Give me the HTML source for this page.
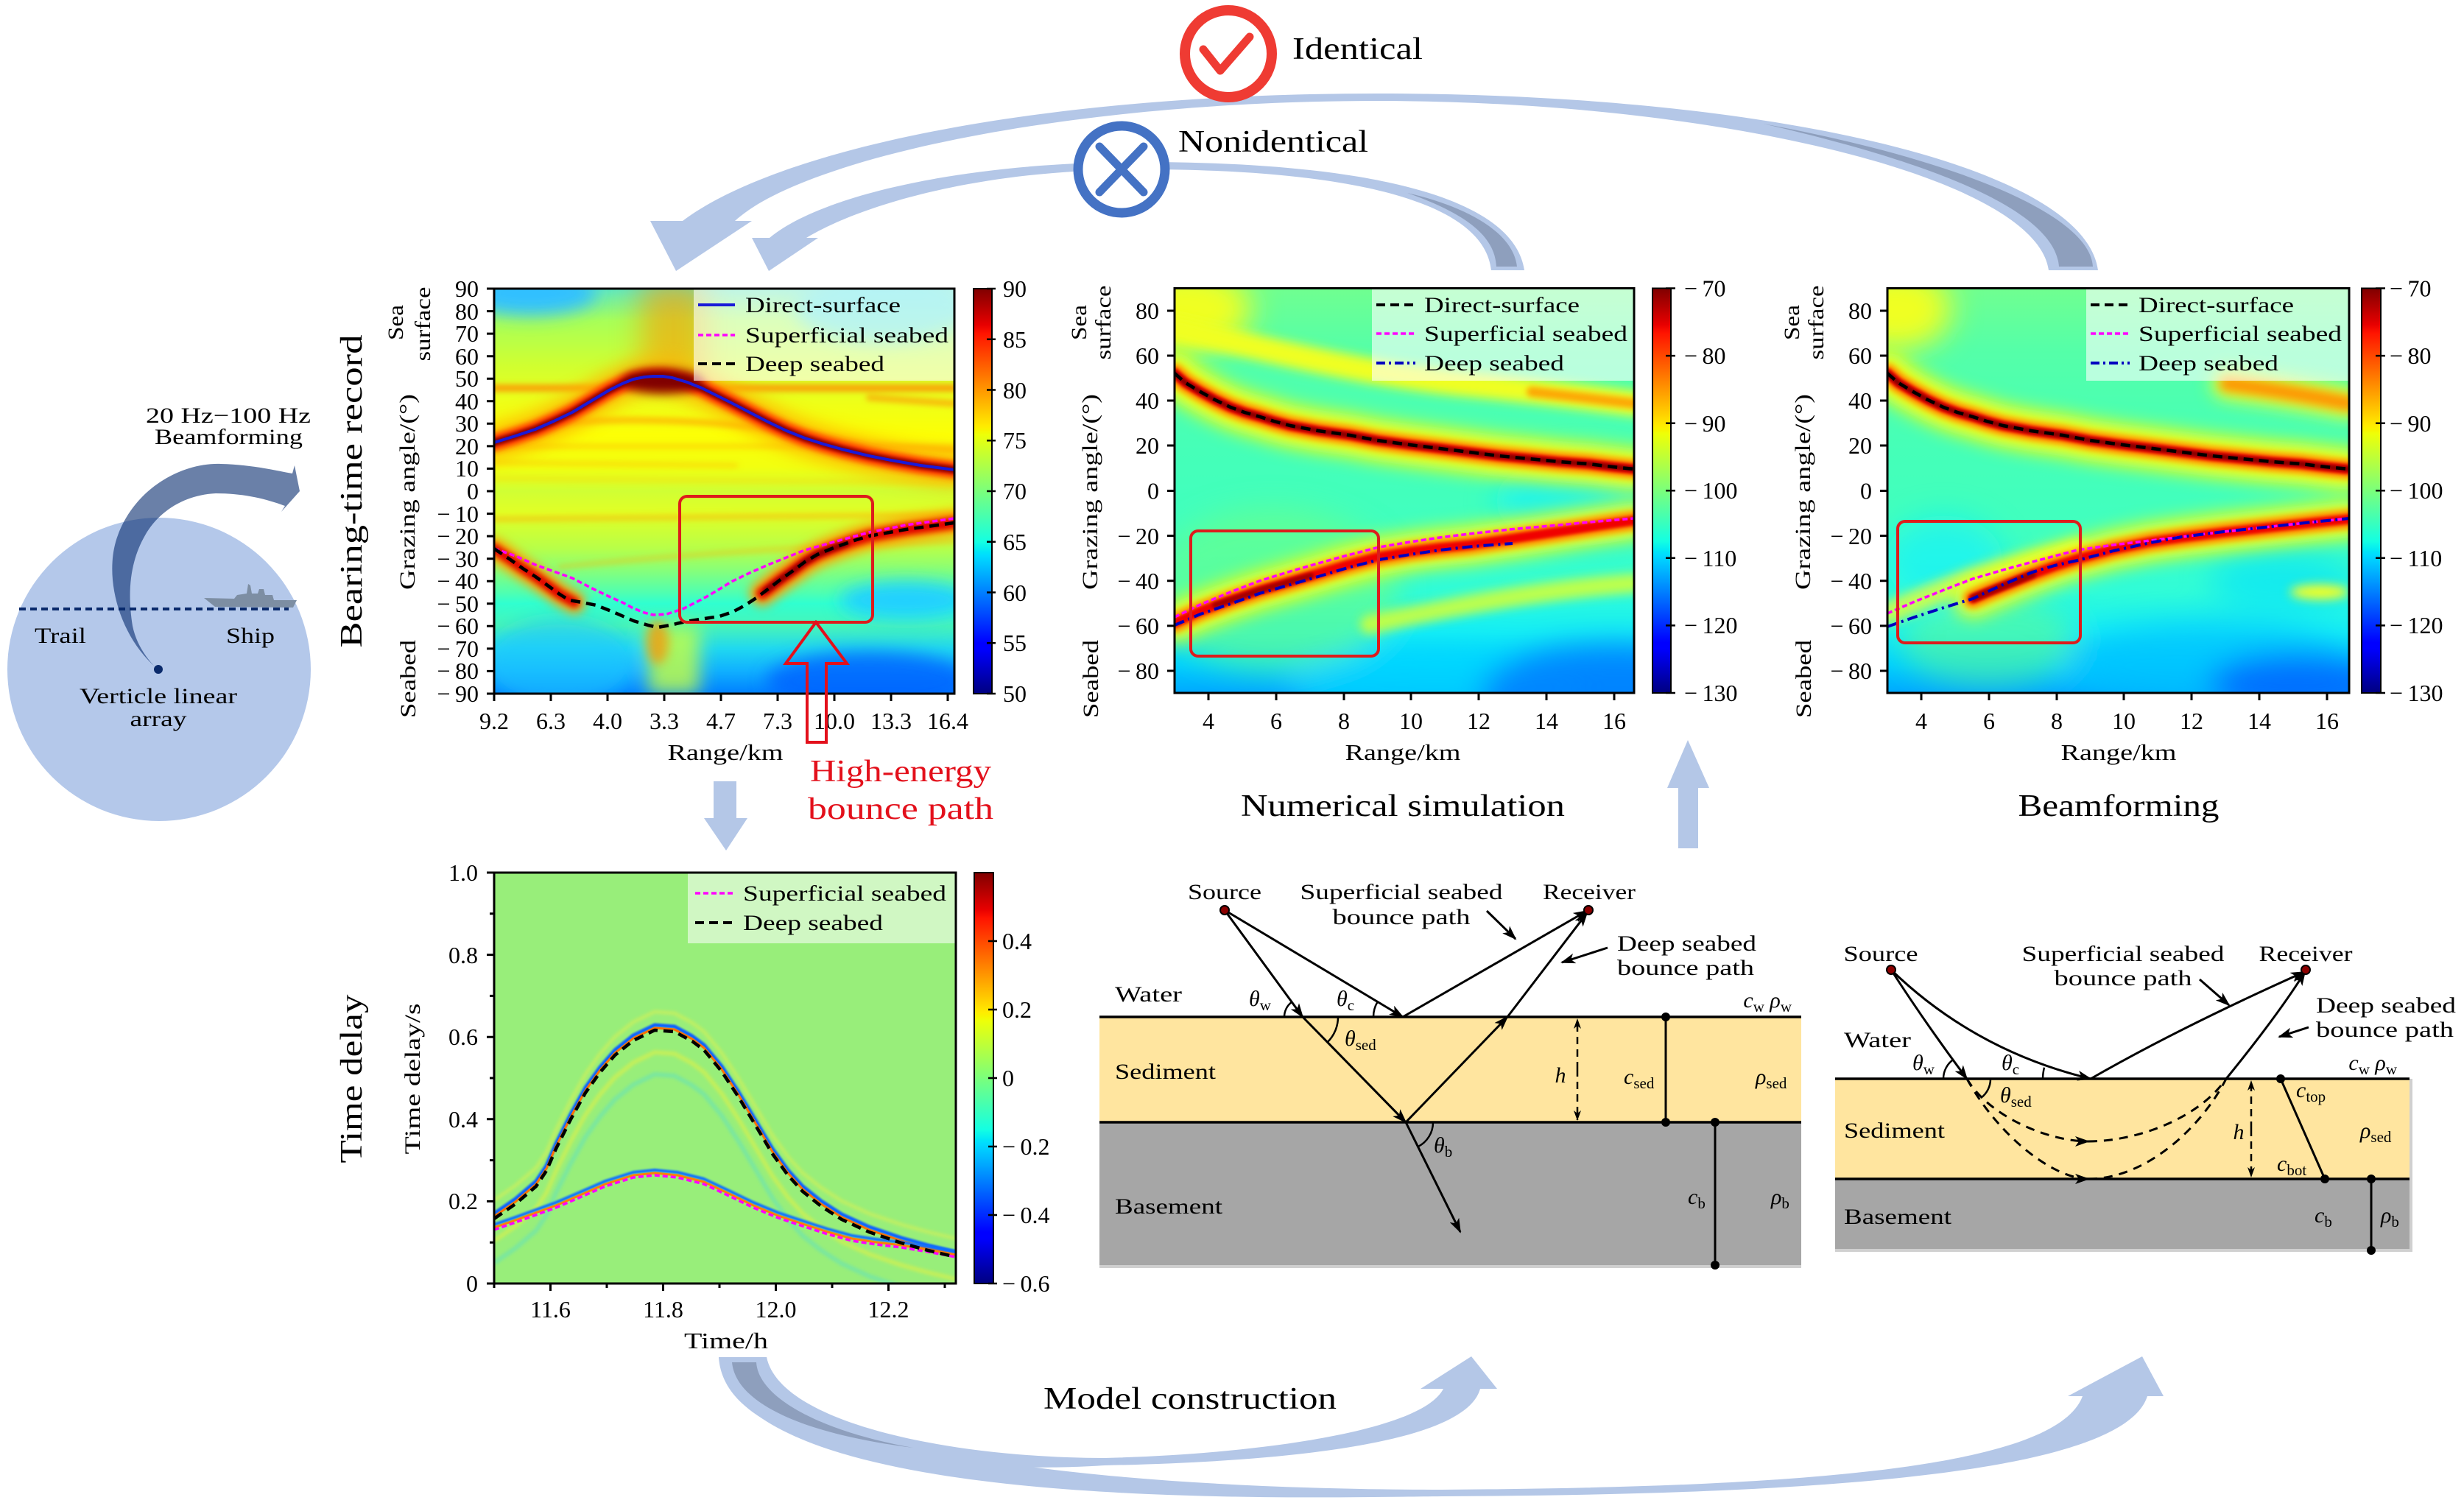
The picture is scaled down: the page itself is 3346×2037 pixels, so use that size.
<!DOCTYPE html>
<html><head><meta charset="utf-8"><style>
html,body{margin:0;padding:0;background:#fff;}
svg{display:block;}
text{font-family:"Liberation Serif","DejaVu Serif",serif;fill:#000;}
</style></head><body>
<svg xmlns="http://www.w3.org/2000/svg" width="3346" height="2037" viewBox="0 0 3346 2037">
<defs>
<filter id="b1" filterUnits="userSpaceOnUse" x="0" y="0" width="3346" height="2037"><feGaussianBlur stdDeviation="1"/></filter>
<filter id="b2" filterUnits="userSpaceOnUse" x="0" y="0" width="3346" height="2037"><feGaussianBlur stdDeviation="2"/></filter>
<filter id="b4" filterUnits="userSpaceOnUse" x="0" y="0" width="3346" height="2037"><feGaussianBlur stdDeviation="4"/></filter>
<filter id="b7" filterUnits="userSpaceOnUse" x="0" y="0" width="3346" height="2037"><feGaussianBlur stdDeviation="7"/></filter>
<filter id="b12" filterUnits="userSpaceOnUse" x="0" y="0" width="3346" height="2037"><feGaussianBlur stdDeviation="12"/></filter>
<filter id="b20" filterUnits="userSpaceOnUse" x="0" y="0" width="3346" height="2037"><feGaussianBlur stdDeviation="20"/></filter>
<linearGradient id="jet" x1="0" y1="1" x2="0" y2="0">
<stop offset="0" stop-color="#000080"/><stop offset="0.11" stop-color="#0000ff"/><stop offset="0.125" stop-color="#0000ff"/>
<stop offset="0.34" stop-color="#00dbff"/><stop offset="0.35" stop-color="#00e6f7"/><stop offset="0.375" stop-color="#14ffe2"/>
<stop offset="0.64" stop-color="#eeff08"/><stop offset="0.65" stop-color="#f7f500"/><stop offset="0.66" stop-color="#ffec00"/>
<stop offset="0.89" stop-color="#ff1300"/><stop offset="0.91" stop-color="#e80000"/><stop offset="1" stop-color="#800000"/>
</linearGradient>
<linearGradient id="gtl" x1="0" y1="0" x2="0" y2="1">
<stop offset="0" stop-color="#60e8c0"/><stop offset="0.08" stop-color="#a8ff58"/><stop offset="0.19" stop-color="#d0ff30"/>
<stop offset="0.28" stop-color="#eeff18"/><stop offset="0.36" stop-color="#fcff05"/><stop offset="0.44" stop-color="#f2ff10"/>
<stop offset="0.5" stop-color="#d0ff34"/><stop offset="0.555" stop-color="#e2ff24"/><stop offset="0.64" stop-color="#b8ff48"/>
<stop offset="0.694" stop-color="#88ff78"/><stop offset="0.75" stop-color="#50ffb0"/><stop offset="0.777" stop-color="#30ffd0"/>
<stop offset="0.833" stop-color="#48f4b8"/><stop offset="0.889" stop-color="#20d8f0"/><stop offset="0.944" stop-color="#10b0ff"/>
<stop offset="1" stop-color="#0080ff"/>
</linearGradient>
<linearGradient id="gmid" x1="0" y1="0" x2="0" y2="1">
<stop offset="0" stop-color="#70ff90"/><stop offset="0.15" stop-color="#55ffa8"/><stop offset="0.4" stop-color="#45ffb8"/>
<stop offset="0.6" stop-color="#40ffc0"/><stop offset="0.75" stop-color="#30fcd8"/><stop offset="0.85" stop-color="#15eef5"/>
<stop offset="0.93" stop-color="#00d0ff"/><stop offset="1" stop-color="#00a8ff"/>
</linearGradient>
<clipPath id="ctl"><rect x="671" y="392" width="625" height="550"/></clipPath>
<clipPath id="cmid"><rect x="1595" y="391.5" width="624" height="549.5"/></clipPath>
<clipPath id="crt"><rect x="2563" y="391.5" width="627" height="549.5"/></clipPath>
<clipPath id="ctd"><rect x="671" y="1185" width="627" height="558"/></clipPath>
<marker id="ah" viewBox="0 0 20 14" refX="18" refY="7" markerWidth="20" markerHeight="14" orient="auto" markerUnits="userSpaceOnUse"><path d="M0,0 L20,7 L0,14 L5,7 Z" fill="#000"/></marker>
<marker id="ahs" viewBox="0 0 14 10" refX="13" refY="5" markerWidth="14" markerHeight="10" orient="auto" markerUnits="userSpaceOnUse"><path d="M0,0 L14,5 L0,10 L4,5 Z" fill="#000"/></marker>
</defs>

<!-- ============ TOP ARROWS ============ -->
<path d="M2849,367 C2830,225 2400,127 1871,127 C1420,127 1060,200 927,300 L883,300 L918,368 L1021,300 L998,300 C1090,215 1450,137 1871,137 C2330,137 2765,240 2782,367 Z" fill="#b4c7e7"/>
<path d="M2394,168 C2600,215 2790,280 2796,362 L2842,362 C2838,290 2650,215 2394,168 Z" fill="#8e9fbd"/>
<path d="M2070,367 C2055,265 1850,220 1550,220 C1300,220 1110,268 1045,323 L1021,323 L1044,368 L1111,323 L1095,323 C1170,278 1330,230 1550,230 C1830,230 2015,272 2025,367 Z" fill="#b4c7e7"/>
<path d="M1911,262 C1990,290 2030,320 2032,362 L2060,362 C2055,315 1990,280 1911,262 Z" fill="#8e9fbd"/>

<!-- icons -->
<circle cx="1668" cy="73" r="59" fill="#fff" stroke="#ef3b33" stroke-width="14"/>
<path d="M1634,67 L1657,96 L1697,50" fill="none" stroke="#ef3b33" stroke-width="11" stroke-linecap="round" stroke-linejoin="round"/>
<text x="1755" y="80" font-size="42" textLength="177" lengthAdjust="spacingAndGlyphs">Identical</text>
<circle cx="1523" cy="230" r="59" fill="#fff" stroke="#4472c4" stroke-width="13"/>
<path d="M1493,199 L1553,261 M1553,199 L1493,261" stroke="#4472c4" stroke-width="11" stroke-linecap="round"/>
<text x="1600" y="206" font-size="42" textLength="258" lengthAdjust="spacingAndGlyphs">Nonidentical</text>

<!-- ============ LEFT CIRCLE ============ -->
<circle cx="216" cy="909" r="206" fill="#b4c8ea"/>
<path d="M26,827 H392" stroke="#0a2a6b" stroke-width="4" stroke-dasharray="9 6"/>
<g fill="#7d8ea3">
<path d="M277,812 L292,824 L398,825 L403,815 L372,815 L370,808 L360,808 L358,800 L352,800 L350,806 L342,806 L340,795 L337,793 L335,806 L322,808 L318,813 Z"/>
</g>
<path d="M210,905 C160,860 140,780 160,727 C185,660 250,628 300,630 C340,631 370,638 397,643 L400,632 L407,667 L382,695 L387,687 C360,677 330,670 293,670 C250,672 215,695 197,727 C178,760 172,800 180,850 C185,875 200,895 210,905 Z" fill="rgb(7,43,110)" fill-opacity="0.6"/>
<circle cx="215" cy="909" r="6" fill="#0a2a6b"/>
<text x="47" y="873" font-size="30" textLength="70" lengthAdjust="spacingAndGlyphs">Trail</text>
<text x="307" y="873" font-size="30" textLength="66" lengthAdjust="spacingAndGlyphs">Ship</text>
<text x="108" y="955" font-size="30" textLength="214" lengthAdjust="spacingAndGlyphs">Verticle linear</text>
<text x="215" y="986" font-size="30" text-anchor="middle" textLength="77" lengthAdjust="spacingAndGlyphs">array</text>
<text x="198" y="574" font-size="30" textLength="224" lengthAdjust="spacingAndGlyphs">20 Hz−100 Hz</text>
<text x="210" y="603" font-size="30" textLength="201" lengthAdjust="spacingAndGlyphs">Beamforming</text>
<text transform="translate(491,667) rotate(-90)" font-size="42" text-anchor="middle" textLength="425" lengthAdjust="spacingAndGlyphs">Bearing-time record</text>

<!-- ============ TOP-LEFT PLOT ============ -->
<g clip-path="url(#ctl)">
<rect x="671" y="392" width="625" height="550" fill="url(#gtl)"/>
<g filter="url(#b12)">
<ellipse cx="720" cy="398" rx="90" ry="30" fill="#30c0ff"/>
<ellipse cx="1200" cy="420" rx="120" ry="45" fill="#40e0f0" opacity="0.8"/>
<ellipse cx="1230" cy="815" rx="90" ry="25" fill="#20d0ff"/>
<ellipse cx="760" cy="900" rx="100" ry="60" fill="#20c8ff" opacity="0.6"/>
<ellipse cx="1180" cy="925" rx="140" ry="40" fill="#0060ff" opacity="0.8"/>
<rect x="880" y="850" width="70" height="92" fill="#c8ff40" opacity="0.8"/>
</g>
<rect x="870" y="380" width="90" height="135" fill="#ff9a00" opacity="0.6" filter="url(#b20)"/>
<g filter="url(#b4)" fill="none" stroke-linecap="round">
<path d="M671,527 L1296,527" stroke="#ff8a00" stroke-width="9" opacity="0.85"/>
<path d="M1180,540 L1296,548" stroke="#ff8000" stroke-width="8" opacity="0.6"/>
<path d="M760,574 Q960,560 1180,604 L1296,612" stroke="#ffa000" stroke-width="8" opacity="0.7"/>
<path d="M671,606 L1296,606" stroke="#ffb000" stroke-width="6" opacity="0.5"/>
<path d="M671,628 L1000,632" stroke="#ffb000" stroke-width="5" opacity="0.5"/>
<path d="M671,705 L1296,699" stroke="#ffa000" stroke-width="6" opacity="0.55"/>
<path d="M760,770 Q1000,745 1296,735" stroke="#ffb000" stroke-width="6" opacity="0.45"/>
<path d="M671,650 L1296,655" stroke="#ffc000" stroke-width="5" opacity="0.4"/>
</g>
<g fill="none" stroke-linejoin="round" stroke-linecap="round">
<path d="M671,601 L700,592 L727,583 L752,572 L777,560 L802,545 L827,530 L845,521 L860,515 L875,512 L887,511 L900,511 L913,513 L933,519 L953,527 L973,537 L993,547 L1018,560 L1043,573 L1068,585 L1093,595 L1118,603 L1143,610 L1180,619 L1210,625 L1250,632 L1296,638" stroke="#ffb000" stroke-width="44" filter="url(#b12)" opacity="0.9"/>
<path d="M671,601 L700,592 L727,583 L752,572 L777,560 L802,545 L827,530 L845,521 L860,515 L875,512 L887,511 L900,511 L913,513 L933,519 L953,527 L973,537 L993,547 L1018,560 L1043,573 L1068,585 L1093,595 L1118,603 L1143,610 L1180,619 L1210,625 L1250,632 L1296,638" stroke="#ff3000" stroke-width="22" filter="url(#b4)"/>
<path d="M671,601 L700,592 L727,583 L752,572 L777,560 L802,545 L827,530 L845,521 L860,515 L875,512 L887,511 L900,511 L913,513 L933,519 L953,527 L973,537 L993,547 L1018,560 L1043,573 L1068,585 L1093,595 L1118,603 L1143,610 L1180,619 L1210,625 L1250,632 L1296,638" stroke="#8a0000" stroke-width="10" filter="url(#b2)"/>
<path d="M671,745 L693,760 L710,772 L727,783 L745,796 L760,807 L780,818" stroke="#ffa000" stroke-width="30" filter="url(#b7)"/>
<path d="M671,745 L693,760 L710,772 L727,783 L745,796 L760,807 L780,818" stroke="#e00000" stroke-width="14" filter="url(#b4)"/>
<path d="M1035,806 L1043,800 L1060,787 L1077,775 L1093,763 L1110,753 L1127,746 L1143,740 L1160,734 L1180,728 L1230,719 L1296,710" stroke="#ffa000" stroke-width="34" filter="url(#b7)"/>
<path d="M1035,806 L1043,800 L1060,787 L1077,775 L1093,763 L1110,753 L1127,746 L1143,740 L1160,734 L1180,728 L1230,719 L1296,710" stroke="#e00000" stroke-width="16" filter="url(#b4)"/>
<path d="M1040,802 L1060,787 L1077,775 L1093,763 L1110,753 L1127,746 L1150,738" stroke="#900000" stroke-width="8" filter="url(#b2)"/>
</g>
<ellipse cx="900" cy="518" rx="55" ry="16" fill="#800000" filter="url(#b7)"/>
<ellipse cx="893" cy="872" rx="15" ry="30" fill="#ff9000" opacity="0.7" filter="url(#b7)"/>
<rect x="942" y="392" width="354" height="125" fill="#fff" opacity="0.6"/>
<g fill="none" stroke-linejoin="round">
<path d="M671,601 L700,592 L727,583 L752,572 L777,560 L802,545 L827,530 L845,521 L860,515 L875,512 L887,511 L900,511 L913,513 L933,519 L953,527 L973,537 L993,547 L1018,560 L1043,573 L1068,585 L1093,595 L1118,603 L1143,610 L1180,619 L1210,625 L1250,632 L1296,638" stroke="#1a1ad8" stroke-width="4"/>
<path d="M671,745 L700,755 L727,767 L752,776 L777,785 L802,798 L827,810 L845,818 L860,826 L875,832 L887,835 L905,834 L927,827 L945,818 L960,810 L977,800 L993,790 L1018,778 L1043,767 L1068,757 L1093,747 L1118,740 L1143,733 L1180,723 L1230,713 L1296,704" stroke="#ff00ff" stroke-width="3.5" stroke-dasharray="7 4"/>
<path d="M671,745 L693,760 L710,772 L727,783 L745,796 L760,807 L773,815 L790,818 L810,822 L835,832 L860,843 L880,849 L893,852 L910,849 L927,845 L950,841 L977,837 L995,831 L1010,823 L1027,812 L1043,800 L1060,787 L1077,775 L1093,763 L1110,753 L1127,746 L1143,740 L1160,734 L1180,728 L1230,719 L1296,710" stroke="#000" stroke-width="4.5" stroke-dasharray="13 8"/>
</g>
</g>
<rect x="923" y="674" width="262" height="171" rx="10" fill="none" stroke="#dd1c1c" stroke-width="4"/>
<rect x="671" y="392" width="625" height="550" fill="none" stroke="#000" stroke-width="3"/>
<!-- legend TL -->
<path d="M948,414H998" stroke="#1a1ad8" stroke-width="4"/>
<path d="M948,455H998" stroke="#ff00ff" stroke-width="3.5" stroke-dasharray="7 4"/>
<path d="M948,494H998" stroke="#000" stroke-width="4" stroke-dasharray="12 7"/>
<text x="1012" y="424" font-size="30" textLength="211" lengthAdjust="spacingAndGlyphs">Direct-surface</text>
<text x="1012" y="465" font-size="30" textLength="276" lengthAdjust="spacingAndGlyphs">Superficial seabed</text>
<text x="1012" y="504" font-size="30" textLength="189" lengthAdjust="spacingAndGlyphs">Deep seabed</text>
<!-- ticks TL -->
<path d="M661,392H671M661,422.6H671M661,453.1H671M661,483.7H671M661,514.2H671M661,544.8H671M661,575.3H671M661,605.9H671M661,636.4H671M661,667H671M661,697.6H671M661,728.1H671M661,758.7H671M661,789.2H671M661,819.8H671M661,850.3H671M661,880.9H671M661,911.4H671M661,942H671 M671,942V952M748,942V952M825,942V952M902,942V952M979,942V952M1056,942V952M1133,942V952M1210,942V952M1287,942V952" stroke="#000" stroke-width="3"/>
<g font-size="32" text-anchor="end">
<text x="650" y="403">90</text><text x="650" y="434">80</text><text x="650" y="464">70</text><text x="650" y="495">60</text><text x="650" y="525">50</text><text x="650" y="556">40</text><text x="650" y="586">30</text><text x="650" y="617">20</text><text x="650" y="647">10</text><text x="650" y="678">0</text><text x="650" y="709">−&#8201;10</text><text x="650" y="739">−&#8201;20</text><text x="650" y="770">−&#8201;30</text><text x="650" y="800">−&#8201;40</text><text x="650" y="831">−&#8201;50</text><text x="650" y="861">−&#8201;60</text><text x="650" y="892">−&#8201;70</text><text x="650" y="922">−&#8201;80</text><text x="650" y="953">−&#8201;90</text>
</g>
<g font-size="32" text-anchor="middle">
<text x="671" y="990">9.2</text><text x="748" y="990">6.3</text><text x="825" y="990">4.0</text><text x="902" y="990">3.3</text><text x="979" y="990">4.7</text><text x="1056" y="990">7.3</text><text x="1133" y="990">10.0</text><text x="1210" y="990">13.3</text><text x="1287" y="990">16.4</text>
</g>
<text x="985" y="1032" font-size="31" text-anchor="middle" textLength="157" lengthAdjust="spacingAndGlyphs">Range/km</text>
<text transform="translate(547,438) rotate(-90)" font-size="30" text-anchor="middle" textLength="48" lengthAdjust="spacingAndGlyphs">Sea</text>
<text transform="translate(584,440) rotate(-90)" font-size="30" text-anchor="middle" textLength="101" lengthAdjust="spacingAndGlyphs">surface</text>
<text transform="translate(563,668) rotate(-90)" font-size="30" text-anchor="middle" textLength="266" lengthAdjust="spacingAndGlyphs">Grazing angle/(°)</text>
<text transform="translate(564,922) rotate(-90)" font-size="30" text-anchor="middle" textLength="106" lengthAdjust="spacingAndGlyphs">Seabed</text>
<!-- colorbar TL -->
<rect x="1322" y="392" width="25" height="550" fill="url(#jet)" stroke="#000" stroke-width="2"/>
<path d="M1340,392H1352M1340,460.75H1352M1340,529.5H1352M1340,598.25H1352M1340,667H1352M1340,735.75H1352M1340,804.5H1352M1340,873.25H1352M1340,942H1352" stroke="#000" stroke-width="2.5"/>
<g font-size="32">
<text x="1362" y="403">90</text><text x="1362" y="472">85</text><text x="1362" y="541">80</text><text x="1362" y="609">75</text><text x="1362" y="678">70</text><text x="1362" y="747">65</text><text x="1362" y="816">60</text><text x="1362" y="884">55</text><text x="1362" y="953">50</text>
</g>
<!-- red hollow arrow -->
<path d="M1096,1008 L1096,901 L1067,901 L1108,845 L1150,901 L1122,901 L1122,1008 Z" fill="none" stroke="#e3101b" stroke-width="4" stroke-linejoin="miter"/>
<text x="1223" y="1061" font-size="42" style="fill:#e3101b" text-anchor="middle" textLength="246" lengthAdjust="spacingAndGlyphs">High-energy</text>
<text x="1223" y="1112" font-size="42" style="fill:#e3101b" text-anchor="middle" textLength="252" lengthAdjust="spacingAndGlyphs">bounce path</text>
<!-- down arrow -->
<path d="M969,1061 H1000 V1111 H1015 L986,1155 L956,1111 H969 Z" fill="#b4c7e7"/>

<!-- ============ MIDDLE PLOT ============ -->
<g clip-path="url(#cmid)">
<rect x="1595" y="391.5" width="624" height="549.5" fill="url(#gmid)"/>
<g filter="url(#b20)">
<ellipse cx="1610" cy="420" rx="90" ry="55" fill="#f0ff20"/>
<ellipse cx="1730" cy="800" rx="170" ry="110" fill="#70ff80" opacity="0.6"/>
<ellipse cx="2150" cy="680" rx="120" ry="60" fill="#10f0ff" opacity="0.6"/>
<ellipse cx="1950" cy="930" rx="200" ry="50" fill="#00d8ff" opacity="0.7"/>
<ellipse cx="2190" cy="945" rx="180" ry="70" fill="#0080ff" opacity="0.9"/>
</g>
<g fill="none" stroke-linejoin="round" stroke-linecap="round">
<path d="M1595,446 C1700,470 1850,508 1995,522 C2100,532 2170,542 2219,548" stroke="#f0ff20" stroke-width="34" filter="url(#b7)"/>
<path d="M2080,532 L2219,548" stroke="#ff9800" stroke-width="14" filter="url(#b4)" opacity="0.85"/>
<path d="M1860,848 C1980,822 2100,800 2219,792" stroke="#d8ff30" stroke-width="26" filter="url(#b7)" opacity="0.85"/>
<g id="mdband">
<path d="M1595,507 L1610,520 L1630,532 L1650,543 L1671,553 L1690,560 L1711,566 L1730,572 L1752,578 L1790,585 L1833,591 L1870,598 L1914,604 L1955,609 L1995,614 L2035,619 L2076,623 L2117,627 L2157,630 L2190,634 L2219,637" stroke="#f8ff10" stroke-width="56" filter="url(#b12)"/>
<path d="M1595,507 L1610,520 L1630,532 L1650,543 L1671,553 L1690,560 L1711,566 L1730,572 L1752,578 L1790,585 L1833,591 L1870,598 L1914,604 L1955,609 L1995,614 L2035,619 L2076,623 L2117,627 L2157,630 L2190,634 L2219,637" stroke="#ff8c00" stroke-width="26" filter="url(#b4)"/>
<path d="M1595,507 L1610,520 L1630,532 L1650,543 L1671,553 L1690,560 L1711,566 L1730,572 L1752,578 L1790,585 L1833,591 L1870,598 L1914,604 L1955,609 L1995,614 L2035,619 L2076,623 L2117,627 L2157,630 L2190,634 L2219,637" stroke="#f00000" stroke-width="14" filter="url(#b2)"/>
<path d="M1595,507 L1610,520 L1630,532 L1650,543 L1671,553 L1690,560 L1711,566 L1730,572 L1752,578 L1790,585 L1833,591 L1870,598 L1914,604 L1955,609 L1995,614 L2035,619 L2076,623 L2117,627 L2157,630 L2190,634 L2219,637" stroke="#800000" stroke-width="7" filter="url(#b2)"/>
</g>
<path d="M1595,846 L1630,830 L1671,815 L1710,802 L1752,790 L1790,779 L1830,767 L1873,756 L1915,749 L1955,744 L1995,740 L2050,732 L2117,722 L2170,714 L2219,707" stroke="#f8ff10" stroke-width="50" filter="url(#b12)"/>
<path d="M1595,846 L1630,830 L1671,815 L1710,802 L1752,790 L1790,779 L1830,767 L1873,756 L1915,749 L1955,744 L1995,740 L2050,732 L2117,722 L2170,714 L2219,707" stroke="#ff8c00" stroke-width="26" filter="url(#b4)"/>
<path d="M1595,846 L1630,830 L1671,815 L1710,802 L1752,790 L1790,779 L1830,767 L1873,756 L1915,749 L1955,744 L1995,740 L2050,732 L2117,722 L2170,714 L2219,707" stroke="#f00000" stroke-width="13" filter="url(#b2)"/>
<path d="M1650,822 L1671,815 L1710,802 L1752,790 L1780,782" stroke="#a00000" stroke-width="8" filter="url(#b2)"/>
</g>
<rect x="1863" y="391.5" width="356" height="125.5" fill="#fff" opacity="0.6"/>
<g fill="none" stroke-linejoin="round">
<path d="M1595,507 L1610,520 L1630,532 L1650,543 L1671,553 L1690,560 L1711,566 L1730,572 L1752,578 L1790,585 L1833,591 L1870,598 L1914,604 L1955,609 L1995,614 L2035,619 L2076,623 L2117,627 L2157,630 L2190,634 L2219,637" stroke="#000" stroke-width="4.5" stroke-dasharray="13 8"/>
<path d="M1595,838 L1630,821 L1671,804 L1710,789 L1752,776 L1790,765 L1830,754 L1873,743 L1915,736 L1955,730 L1995,725 L2050,719 L2117,713 L2170,708 L2219,704" stroke="#ff00ff" stroke-width="3.5" stroke-dasharray="7 4"/>
<path d="M1595,849 L1630,834 L1671,820 L1710,806 L1752,794 L1790,783 L1830,771 L1873,760 L1915,753 L1955,747 L2000,742 L2054,738" stroke="#0000c0" stroke-width="4" stroke-dasharray="14 6 3 6"/>
</g>
</g>
<rect x="1617" y="721" width="255" height="170" rx="10" fill="none" stroke="#dd1c1c" stroke-width="4"/>
<rect x="1595" y="391.5" width="624" height="549.5" fill="none" stroke="#000" stroke-width="3"/>
<path d="M1869,414H1922" stroke="#000" stroke-width="4" stroke-dasharray="12 7"/>
<path d="M1869,453H1922" stroke="#ff00ff" stroke-width="3.5" stroke-dasharray="7 4"/>
<path d="M1869,493H1922" stroke="#0000c0" stroke-width="4" stroke-dasharray="12 5 3 5"/>
<text x="1934" y="424" font-size="30" textLength="211" lengthAdjust="spacingAndGlyphs">Direct-surface</text>
<text x="1934" y="463" font-size="30" textLength="276" lengthAdjust="spacingAndGlyphs">Superficial seabed</text>
<text x="1934" y="503" font-size="30" textLength="190" lengthAdjust="spacingAndGlyphs">Deep seabed</text>
<path d="M1585,422H1595M1585,483H1595M1585,544H1595M1585,605H1595M1585,666.5H1595M1585,727.6H1595M1585,788.7H1595M1585,849.9H1595M1585,911H1595 M1641,941V951M1733,941V951M1825,941V951M1916,941V951M2008,941V951M2100,941V951M2192,941V951" stroke="#000" stroke-width="3"/>
<g font-size="32" text-anchor="end">
<text x="1574" y="433">80</text><text x="1574" y="494">60</text><text x="1574" y="555">40</text><text x="1574" y="616">20</text><text x="1574" y="677.5">0</text><text x="1574" y="739">−&#8201;20</text><text x="1574" y="800">−&#8201;40</text><text x="1574" y="861">−&#8201;60</text><text x="1574" y="922">−&#8201;80</text>
</g>
<g font-size="32" text-anchor="middle">
<text x="1641" y="990">4</text><text x="1733" y="990">6</text><text x="1825" y="990">8</text><text x="1916" y="990">10</text><text x="2008" y="990">12</text><text x="2100" y="990">14</text><text x="2192" y="990">16</text>
</g>
<text x="1905" y="1032" font-size="31" text-anchor="middle" textLength="157" lengthAdjust="spacingAndGlyphs">Range/km</text>
<text x="1905" y="1108" font-size="42" text-anchor="middle" textLength="440" lengthAdjust="spacingAndGlyphs">Numerical simulation</text>
<text transform="translate(1475,438) rotate(-90)" font-size="30" text-anchor="middle" textLength="48" lengthAdjust="spacingAndGlyphs">Sea</text>
<text transform="translate(1508,438) rotate(-90)" font-size="30" text-anchor="middle" textLength="101" lengthAdjust="spacingAndGlyphs">surface</text>
<text transform="translate(1490,668) rotate(-90)" font-size="30" text-anchor="middle" textLength="266" lengthAdjust="spacingAndGlyphs">Grazing angle/(°)</text>
<text transform="translate(1491,922) rotate(-90)" font-size="30" text-anchor="middle" textLength="106" lengthAdjust="spacingAndGlyphs">Seabed</text>
<rect x="2244" y="391.5" width="25" height="549.5" fill="url(#jet)" stroke="#000" stroke-width="2"/>
<path d="M2262,391.5H2275M2262,483.1H2275M2262,574.7H2275M2262,666.2H2275M2262,757.8H2275M2262,849.4H2275M2262,941H2275" stroke="#000" stroke-width="2.5"/>
<g font-size="32">
<text x="2287" y="402.5">−&#8201;70</text><text x="2287" y="494">−&#8201;80</text><text x="2287" y="586">−&#8201;90</text><text x="2287" y="677">−&#8201;100</text><text x="2287" y="769">−&#8201;110</text><text x="2287" y="860">−&#8201;120</text><text x="2287" y="952">−&#8201;130</text>
</g>
<!-- up arrow -->
<path d="M2279,1152 V1070 H2264 L2292,1005 L2321,1070 H2306 V1152 Z" fill="#b4c7e7"/>

<!-- ============ RIGHT PLOT ============ -->
<g clip-path="url(#crt)">
<rect x="2563" y="391.5" width="627" height="549.5" fill="url(#gmid)"/>
<g filter="url(#b20)">
<ellipse cx="2575" cy="420" rx="75" ry="55" fill="#f0ff20"/>
<ellipse cx="2640" cy="760" rx="80" ry="60" fill="#10f0ff" opacity="0.6"/>
<ellipse cx="2700" cy="870" rx="120" ry="60" fill="#70ff80" opacity="0.5"/>
<ellipse cx="3000" cy="905" rx="200" ry="60" fill="#00c0ff" opacity="0.7"/>
<ellipse cx="3120" cy="930" rx="120" ry="40" fill="#0070ff"/>
<ellipse cx="3100" cy="790" rx="100" ry="40" fill="#00e0ff" opacity="0.6"/>
</g>
<g fill="none" stroke-linejoin="round" stroke-linecap="round">
<path d="M3024,521 C3080,528 3150,540 3190,548" stroke="#f0ff20" stroke-width="40" filter="url(#b12)"/>
<path d="M3024,521 C3080,528 3150,540 3190,548" stroke="#ff9000" stroke-width="20" filter="url(#b7)"/>
<use href="#mdband" transform="translate(968,0)"/>
<path d="M2563,833 L2600,817 L2640,801 L2679,786 L2720,774 L2760,763 L2821,747" stroke="#e8ff30" stroke-width="30" filter="url(#b7)" opacity="0.8"/>
<path d="M2679,813 L2700,804 L2720,796 L2760,780 L2790,769 L2821,759 L2870,746 L2920,736 L2963,730 L3020,723 L3085,716 L3140,710 L3190,705" stroke="#f8ff10" stroke-width="50" filter="url(#b12)"/>
<path d="M2679,813 L2700,804 L2720,796 L2760,780 L2790,769 L2821,759 L2870,746 L2920,736 L2963,730 L3020,723 L3085,716 L3140,710 L3190,705" stroke="#ff8c00" stroke-width="26" filter="url(#b4)"/>
<path d="M2679,813 L2700,804 L2720,796 L2760,780 L2790,769 L2821,759 L2870,746 L2920,736 L2963,730 L3020,723 L3085,716 L3140,710 L3190,705" stroke="#f00000" stroke-width="13" filter="url(#b2)"/>
<path d="M2680,812 L2700,804 L2720,796 L2760,780" stroke="#a00000" stroke-width="10" filter="url(#b2)"/>
</g>
<ellipse cx="3150" cy="804" rx="40" ry="10" fill="#f8ff20" filter="url(#b7)"/>
<rect x="2833" y="391.5" width="357" height="125.5" fill="#fff" opacity="0.6"/>
<g fill="none" stroke-linejoin="round">
<path transform="translate(968,0)" d="M1595,507 L1610,520 L1630,532 L1650,543 L1671,553 L1690,560 L1711,566 L1730,572 L1752,578 L1790,585 L1833,591 L1870,598 L1914,604 L1955,609 L1995,614 L2035,619 L2076,623 L2117,627 L2157,630 L2190,634 L2222,637" stroke="#000" stroke-width="4.5" stroke-dasharray="13 8"/>
<path d="M2563,833 L2600,817 L2640,801 L2679,786 L2720,774 L2760,763 L2821,747 L2870,740 L2920,734 L2963,729 L3020,722 L3085,715 L3140,709 L3190,704" stroke="#ff00ff" stroke-width="3.5" stroke-dasharray="7 4"/>
<path d="M2563,851 L2600,838 L2640,825 L2679,813 L2700,803 L2720,794 L2760,777 L2790,768 L2821,761 L2870,748 L2920,737 L2963,729 L3020,722 L3085,715 L3140,709 L3190,704" stroke="#0000c0" stroke-width="4" stroke-dasharray="14 6 3 6"/>
</g>
</g>
<rect x="2577" y="708" width="248" height="165" rx="10" fill="none" stroke="#dd1c1c" stroke-width="4"/>
<rect x="2563" y="391.5" width="627" height="549.5" fill="none" stroke="#000" stroke-width="3"/>
<path d="M2839,414H2892" stroke="#000" stroke-width="4" stroke-dasharray="12 7"/>
<path d="M2839,453H2892" stroke="#ff00ff" stroke-width="3.5" stroke-dasharray="7 4"/>
<path d="M2839,493H2892" stroke="#0000c0" stroke-width="4" stroke-dasharray="12 5 3 5"/>
<text x="2904" y="424" font-size="30" textLength="211" lengthAdjust="spacingAndGlyphs">Direct-surface</text>
<text x="2904" y="463" font-size="30" textLength="276" lengthAdjust="spacingAndGlyphs">Superficial seabed</text>
<text x="2904" y="503" font-size="30" textLength="190" lengthAdjust="spacingAndGlyphs">Deep seabed</text>
<path d="M2553,422H2563M2553,483H2563M2553,544H2563M2553,605H2563M2553,666.5H2563M2553,727.6H2563M2553,788.7H2563M2553,849.9H2563M2553,911H2563 M2609,941V951M2701,941V951M2793,941V951M2884,941V951M2976,941V951M3068,941V951M3160,941V951" stroke="#000" stroke-width="3"/>
<g font-size="32" text-anchor="end">
<text x="2542" y="433">80</text><text x="2542" y="494">60</text><text x="2542" y="555">40</text><text x="2542" y="616">20</text><text x="2542" y="677.5">0</text><text x="2542" y="739">−&#8201;20</text><text x="2542" y="800">−&#8201;40</text><text x="2542" y="861">−&#8201;60</text><text x="2542" y="922">−&#8201;80</text>
</g>
<g font-size="32" text-anchor="middle">
<text x="2609" y="990">4</text><text x="2701" y="990">6</text><text x="2793" y="990">8</text><text x="2884" y="990">10</text><text x="2976" y="990">12</text><text x="3068" y="990">14</text><text x="3160" y="990">16</text>
</g>
<text x="2877" y="1032" font-size="31" text-anchor="middle" textLength="157" lengthAdjust="spacingAndGlyphs">Range/km</text>
<text x="2877" y="1108" font-size="42" text-anchor="middle" textLength="273" lengthAdjust="spacingAndGlyphs">Beamforming</text>
<text transform="translate(2443,438) rotate(-90)" font-size="30" text-anchor="middle" textLength="48" lengthAdjust="spacingAndGlyphs">Sea</text>
<text transform="translate(2476,438) rotate(-90)" font-size="30" text-anchor="middle" textLength="101" lengthAdjust="spacingAndGlyphs">surface</text>
<text transform="translate(2458,668) rotate(-90)" font-size="30" text-anchor="middle" textLength="266" lengthAdjust="spacingAndGlyphs">Grazing angle/(°)</text>
<text transform="translate(2459,922) rotate(-90)" font-size="30" text-anchor="middle" textLength="106" lengthAdjust="spacingAndGlyphs">Seabed</text>
<rect x="3207" y="391.5" width="26" height="549.5" fill="url(#jet)" stroke="#000" stroke-width="2"/>
<path d="M3226,391.5H3239M3226,483.1H3239M3226,574.7H3239M3226,666.2H3239M3226,757.8H3239M3226,849.4H3239M3226,941H3239" stroke="#000" stroke-width="2.5"/>
<g font-size="32">
<text x="3245" y="402.5">−&#8201;70</text><text x="3245" y="494">−&#8201;80</text><text x="3245" y="586">−&#8201;90</text><text x="3245" y="677">−&#8201;100</text><text x="3245" y="769">−&#8201;110</text><text x="3245" y="860">−&#8201;120</text><text x="3245" y="952">−&#8201;130</text>
</g>

<!-- ============ TIME DELAY PLOT ============ -->
<g clip-path="url(#ctd)">
<rect x="671" y="1185" width="627" height="558" fill="#98ee7a"/>
<g fill="none" stroke-linejoin="round" filter="url(#b2)" opacity="0.55">
<path transform="translate(0,30)" d="M671,1655 L700,1635 L728,1611 L742,1590 L755,1560 L775,1520 L795,1484 L815,1456 L835,1433 L860,1413 L889,1399 L916,1401 L940,1414 L956,1426 L980,1455 L1003,1490 L1027,1530 L1049,1567 L1070,1596 L1090,1618 L1115,1638 L1143,1656 L1180,1673 L1224,1688 L1260,1698 L1298,1707" stroke="#e8f040" stroke-width="6"/>
<path transform="translate(0,60)" d="M671,1655 L700,1635 L728,1611 L742,1590 L755,1560 L775,1520 L795,1484 L815,1456 L835,1433 L860,1413 L889,1399 L916,1401 L940,1414 L956,1426 L980,1455 L1003,1490 L1027,1530 L1049,1567 L1070,1596 L1090,1618 L1115,1638 L1143,1656 L1180,1673 L1224,1688 L1260,1698 L1298,1707" stroke="#60e0c0" stroke-width="6"/>
<path transform="translate(0,-25)" d="M671,1655 L700,1635 L728,1611 L742,1590 L755,1560 L775,1520 L795,1484 L815,1456 L835,1433 L860,1413 L889,1399 L916,1401 L940,1414 L956,1426 L980,1455 L1003,1490 L1027,1530 L1049,1567 L1070,1596 L1090,1618 L1115,1638 L1143,1656 L1180,1673 L1224,1688 L1260,1698 L1298,1707" stroke="#e0f050" stroke-width="5"/>
</g>
<g fill="none" stroke-linejoin="round">
<path transform="translate(0,-7)" d="M671,1655 L700,1635 L728,1611 L742,1590 L755,1560 L775,1520 L795,1484 L815,1456 L835,1433 L860,1413 L889,1399 L916,1401 L940,1414 L956,1426 L980,1455 L1003,1490 L1027,1530 L1049,1567 L1070,1596 L1090,1618 L1115,1638 L1143,1656 L1180,1673 L1224,1688 L1260,1698 L1298,1707" stroke="#1060ff" stroke-width="5" filter="url(#b1)"/>
<path transform="translate(0,-3)" d="M671,1655 L700,1635 L728,1611 L742,1590 L755,1560 L775,1520 L795,1484 L815,1456 L835,1433 L860,1413 L889,1399 L916,1401 L940,1414 L956,1426 L980,1455 L1003,1490 L1027,1530 L1049,1567 L1070,1596 L1090,1618 L1115,1638 L1143,1656 L1180,1673 L1224,1688 L1260,1698 L1298,1707" stroke="#ff7000" stroke-width="3"/>
<path transform="translate(0,-7)" d="M671,1670 L700,1660 L755,1640 L790,1625 L822,1611 L860,1599 L889,1596 L920,1599 L956,1608 L990,1624 L1023,1640 L1057,1654 L1090,1665 L1124,1676 L1157,1685 L1190,1690 L1224,1694 L1260,1700 L1298,1707" stroke="#1070ff" stroke-width="4" filter="url(#b1)"/>
<path transform="translate(0,-3)" d="M671,1670 L700,1660 L755,1640 L790,1625 L822,1611 L860,1599 L889,1596 L920,1599 L956,1608 L990,1624 L1023,1640 L1057,1654 L1090,1665 L1124,1676 L1157,1685 L1190,1690 L1224,1694 L1260,1700 L1298,1707" stroke="#ff8000" stroke-width="3"/>
</g>
<rect x="934" y="1185" width="364" height="96" fill="#fff" opacity="0.55"/>
<g fill="none" stroke-linejoin="round">
<path d="M671,1670 L700,1660 L755,1640 L790,1625 L822,1611 L860,1599 L889,1596 L920,1599 L956,1608 L990,1624 L1023,1640 L1057,1654 L1090,1665 L1124,1676 L1157,1685 L1190,1690 L1224,1694 L1260,1700 L1298,1707" stroke="#ff00ff" stroke-width="3.5" stroke-dasharray="7 4"/>
<path d="M671,1655 L700,1635 L728,1611 L742,1590 L755,1560 L775,1520 L795,1484 L815,1456 L835,1433 L860,1413 L889,1399 L916,1401 L940,1414 L956,1426 L980,1455 L1003,1490 L1027,1530 L1049,1567 L1070,1596 L1090,1618 L1115,1638 L1143,1656 L1180,1673 L1224,1688 L1260,1698 L1298,1707" stroke="#000" stroke-width="4.5" stroke-dasharray="13 8"/>
</g>
</g>
<rect x="671" y="1185" width="627" height="558" fill="none" stroke="#000" stroke-width="3"/>
<path d="M944,1213H996" stroke="#ff00ff" stroke-width="3.5" stroke-dasharray="7 4"/>
<path d="M944,1253H996" stroke="#000" stroke-width="4" stroke-dasharray="12 7"/>
<text x="1009" y="1223" font-size="30" textLength="276" lengthAdjust="spacingAndGlyphs">Superficial seabed</text>
<text x="1009" y="1263" font-size="30" textLength="190" lengthAdjust="spacingAndGlyphs">Deep seabed</text>
<path d="M661,1743H671M661,1631.4H671M661,1519.8H671M661,1408.2H671M661,1296.6H671M661,1185H671 M665,1687.2H671M665,1575.6H671M665,1464H671M665,1352.4H671M665,1240.8H671 M747.5,1743V1753M900.5,1743V1753M1053.5,1743V1753M1206.5,1743V1753 M671,1743V1749M824,1743V1749M977,1743V1749M1130,1743V1749M1283,1743V1749" stroke="#000" stroke-width="3"/>
<g font-size="32" text-anchor="end">
<text x="649" y="1196">1.0</text><text x="649" y="1308">0.8</text><text x="649" y="1419">0.6</text><text x="649" y="1531">0.4</text><text x="649" y="1642">0.2</text><text x="649" y="1754">0</text>
</g>
<g font-size="32" text-anchor="middle">
<text x="747.5" y="1789">11.6</text><text x="900.5" y="1789">11.8</text><text x="1053.5" y="1789">12.0</text><text x="1206.5" y="1789">12.2</text>
</g>
<text x="986" y="1831" font-size="31" text-anchor="middle" textLength="114" lengthAdjust="spacingAndGlyphs">Time/h</text>
<text transform="translate(570,1465) rotate(-90)" font-size="30" text-anchor="middle" textLength="205" lengthAdjust="spacingAndGlyphs">Time delay/s</text>
<text transform="translate(491,1465) rotate(-90)" font-size="42" text-anchor="middle" textLength="229" lengthAdjust="spacingAndGlyphs">Time delay</text>
<rect x="1323" y="1185" width="26" height="558" fill="url(#jet)" stroke="#000" stroke-width="2"/>
<path d="M1342,1278H1354M1342,1371H1354M1342,1464H1354M1342,1557H1354M1342,1650H1354M1342,1743H1354" stroke="#000" stroke-width="2.5"/>
<g font-size="32">
<text x="1361" y="1289">0.4</text><text x="1361" y="1382">0.2</text><text x="1361" y="1475">0</text><text x="1361" y="1568">−&#8201;0.2</text><text x="1361" y="1661">−&#8201;0.4</text><text x="1361" y="1754">−&#8201;0.6</text>
</g>

<!-- ============ BOTTOM ARROWS ============ -->
<path d="M976,1843 C1000,2050 1700,2035 1958,2032 C2400,2030 2880,2010 2916,1896 L2938,1896 L2909,1842 L2808,1896 L2828,1896 C2790,2000 2400,2020 1958,2023 C1600,2023 1060,1990 1041,1843 Z" fill="#b4c7e7"/>
<path d="M976,1843 C985,1990 1350,2000 1500,1990 C1750,1985 1990,1960 2010,1886 L2033,1886 L1998,1842 L1929,1886 L1960,1886 C1930,1945 1700,1975 1500,1980 C1300,1980 1060,1935 1041,1843 Z" fill="#b4c7e7"/>
<path d="M994,1850 L1027,1850 C1030,1900 1120,1945 1240,1966 C1110,1950 1000,1912 994,1850 Z" fill="#8e9fbd"/>
<text x="1616" y="1913" font-size="42" text-anchor="middle" textLength="398" lengthAdjust="spacingAndGlyphs">Model construction</text>

<!-- ============ MIDDLE DIAGRAM ============ -->
<rect x="1493" y="1381" width="953" height="143" fill="#ffe59f"/>
<rect x="1493" y="1524" width="953" height="194" fill="#a6a6a6"/>
<rect x="1493" y="1718" width="953" height="4" fill="#cfcfcf"/>
<path d="M1493,1381H2446M1493,1524H2446" stroke="#000" stroke-width="3.5"/>
<g fill="none" stroke="#000" stroke-width="3" marker-end="url(#ah)">
<path d="M1663,1236 L1905,1381"/>
<path d="M1905,1381 L2155,1237"/>
<path d="M1663,1236 L1769,1381"/>
<path d="M1769,1381 L1909,1524"/>
<path d="M1909,1524 L2047,1381"/>
<path d="M2047,1381 L2155,1240"/>
<path d="M1909,1524 L1983,1673"/>
<path d="M2019,1237 L2058,1275"/>
<path d="M2183,1287 L2121,1307"/>
</g>
<g fill="none" stroke="#000" stroke-width="2.5">
<path d="M1744,1381 A25,25 0 0 1 1754.2,1360.8"/>
<path d="M1865,1381 A40,40 0 0 1 1870.7,1360.4"/>
<path d="M1817,1381 A48,48 0 0 1 1802.6,1415.3"/>
<path d="M1946,1524 A37,37 0 0 1 1925.5,1557.2"/>
</g>
<g stroke="#000" stroke-width="2.5" stroke-dasharray="10 7" fill="none" marker-end="url(#ahs)">
<path d="M2142,1452 V1384"/><path d="M2142,1452 V1521"/>
</g>
<path d="M2262,1381V1524M2329,1524V1718" stroke="#000" stroke-width="3"/>
<g fill="#000"><circle cx="2262" cy="1381" r="6"/><circle cx="2262" cy="1524" r="6"/><circle cx="2329" cy="1524" r="6"/><circle cx="2329" cy="1718" r="6"/></g>
<circle cx="1663" cy="1236" r="6" fill="#8b0000" stroke="#000" stroke-width="2"/>
<circle cx="2157" cy="1236" r="6" fill="#8b0000" stroke="#000" stroke-width="2"/>
<g font-size="30">
<text x="1663" y="1221" text-anchor="middle" textLength="100" lengthAdjust="spacingAndGlyphs">Source</text>
<text x="1903" y="1221" text-anchor="middle" textLength="275" lengthAdjust="spacingAndGlyphs">Superficial seabed</text>
<text x="1903" y="1255" text-anchor="middle" textLength="187" lengthAdjust="spacingAndGlyphs">bounce path</text>
<text x="2158" y="1221" text-anchor="middle" textLength="126" lengthAdjust="spacingAndGlyphs">Receiver</text>
<text x="2196" y="1291" textLength="189" lengthAdjust="spacingAndGlyphs">Deep seabed</text>
<text x="2196" y="1324" textLength="186" lengthAdjust="spacingAndGlyphs">bounce path</text>
<text x="1514" y="1360" textLength="91" lengthAdjust="spacingAndGlyphs">Water</text>
<text x="1514" y="1465" textLength="137" lengthAdjust="spacingAndGlyphs">Sediment</text>
<text x="1514" y="1648" textLength="146" lengthAdjust="spacingAndGlyphs">Basement</text>
<text x="1711" y="1366" text-anchor="middle" font-style="italic">θ<tspan font-style="normal" font-size="21" dy="6">w</tspan></text>
<text x="1827" y="1366" text-anchor="middle" font-style="italic">θ<tspan font-style="normal" font-size="21" dy="6">c</tspan></text>
<text x="1826" y="1420" font-style="italic">θ<tspan font-style="normal" font-size="21" dy="6">sed</tspan></text>
<text x="1947" y="1565" font-style="italic">θ<tspan font-style="normal" font-size="21" dy="6">b</tspan></text>
<text x="2119" y="1470" text-anchor="middle" font-style="italic">h</text>
<text x="2205" y="1472" font-style="italic">c<tspan font-style="normal" font-size="21" dy="6">sed</tspan></text>
<text x="2384" y="1472" font-style="italic">ρ<tspan font-style="normal" font-size="21" dy="6">sed</tspan></text>
<text x="2292" y="1635" font-style="italic">c<tspan font-style="normal" font-size="21" dy="6">b</tspan></text>
<text x="2405" y="1635" font-style="italic">ρ<tspan font-style="normal" font-size="21" dy="6">b</tspan></text>
<text x="2433" y="1368" text-anchor="end" font-style="italic">c<tspan font-style="normal" font-size="21" dy="6">w</tspan><tspan dy="-6"> ρ</tspan><tspan font-style="normal" font-size="21" dy="6">w</tspan></text>
</g>

<!-- ============ RIGHT DIAGRAM ============ -->
<rect x="2492" y="1465" width="780" height="136" fill="#ffe59f"/>
<rect x="2492" y="1601" width="780" height="95" fill="#a6a6a6"/>
<rect x="3272" y="1465" width="4" height="235" fill="#d0d0d0"/>
<rect x="2492" y="1696" width="784" height="4" fill="#d0d0d0"/>
<path d="M2492,1465H3272M2492,1601H3272" stroke="#000" stroke-width="3.5"/>
<g fill="none" stroke="#000" stroke-width="3" marker-end="url(#ah)">
<path d="M2568,1317 Q2682,1427 2839,1465"/>
<path d="M2839,1465 Q2961,1395 3129,1320"/>
<path d="M2568,1317 Q2615,1390 2671,1465"/>
<path d="M3023,1465 Q3093,1379 3130,1320"/>
<path d="M2987,1330 L3027,1365"/>
<path d="M3135,1395 L3095,1408"/>
</g>
<g fill="none" stroke="#000" stroke-width="3" stroke-dasharray="12 9">
<path d="M2671,1465 C2700,1515 2780,1550 2836,1550" marker-end="url(#ah)"/>
<path d="M2836,1550 C2900,1550 2985,1520 3023,1465"/>
<path d="M2671,1465 C2715,1545 2790,1601 2836,1601" marker-end="url(#ah)"/>
<path d="M2836,1601 C2915,1601 2990,1530 3023,1465"/>
</g>
<g fill="none" stroke="#000" stroke-width="2.5">
<path d="M2639,1465 A32,32 0 0 1 2652.7,1438.7"/>
<path d="M2774,1465 A65,65 0 0 1 2776,1449.7"/>
<path d="M2703,1465 A32,32 0 0 1 2690,1491"/>
</g>
<g stroke="#000" stroke-width="2.5" stroke-dasharray="10 7" fill="none" marker-end="url(#ahs)">
<path d="M3057,1533 V1468"/><path d="M3057,1533 V1598"/>
</g>
<path d="M3097,1465L3157,1601M3220,1601V1698" stroke="#000" stroke-width="3"/>
<g fill="#000"><circle cx="3097" cy="1465" r="6"/><circle cx="3157" cy="1601" r="6"/><circle cx="3220" cy="1601" r="6"/><circle cx="3220" cy="1698" r="6"/></g>
<circle cx="2568" cy="1317" r="6" fill="#8b0000" stroke="#000" stroke-width="2"/>
<circle cx="3131" cy="1317" r="6" fill="#8b0000" stroke="#000" stroke-width="2"/>
<g font-size="30">
<text x="2554" y="1305" text-anchor="middle" textLength="101" lengthAdjust="spacingAndGlyphs">Source</text>
<text x="2883" y="1305" text-anchor="middle" textLength="275" lengthAdjust="spacingAndGlyphs">Superficial seabed</text>
<text x="2883" y="1338" text-anchor="middle" textLength="187" lengthAdjust="spacingAndGlyphs">bounce path</text>
<text x="3131" y="1305" text-anchor="middle" textLength="127" lengthAdjust="spacingAndGlyphs">Receiver</text>
<text x="3145" y="1375" textLength="190" lengthAdjust="spacingAndGlyphs">Deep seabed</text>
<text x="3145" y="1408" textLength="187" lengthAdjust="spacingAndGlyphs">bounce path</text>
<text x="2504" y="1422" textLength="91" lengthAdjust="spacingAndGlyphs">Water</text>
<text x="2504" y="1545" textLength="137" lengthAdjust="spacingAndGlyphs">Sediment</text>
<text x="2504" y="1662" textLength="146" lengthAdjust="spacingAndGlyphs">Basement</text>
<text x="2612" y="1453" text-anchor="middle" font-style="italic">θ<tspan font-style="normal" font-size="21" dy="6">w</tspan></text>
<text x="2730" y="1453" text-anchor="middle" font-style="italic">θ<tspan font-style="normal" font-size="21" dy="6">c</tspan></text>
<text x="2716" y="1497" font-style="italic">θ<tspan font-style="normal" font-size="21" dy="6">sed</tspan></text>
<text x="3040" y="1547" text-anchor="middle" font-style="italic">h</text>
<text x="3118" y="1490" font-style="italic">c<tspan font-style="normal" font-size="21" dy="6">top</tspan></text>
<text x="3092" y="1590" font-style="italic">c<tspan font-style="normal" font-size="21" dy="6">bot</tspan></text>
<text x="3205" y="1545" font-style="italic">ρ<tspan font-style="normal" font-size="21" dy="6">sed</tspan></text>
<text x="3143" y="1660" font-style="italic">c<tspan font-style="normal" font-size="21" dy="6">b</tspan></text>
<text x="3233" y="1660" font-style="italic">ρ<tspan font-style="normal" font-size="21" dy="6">b</tspan></text>
<text x="3255" y="1453" text-anchor="end" font-style="italic">c<tspan font-style="normal" font-size="21" dy="6">w</tspan><tspan dy="-6"> ρ</tspan><tspan font-style="normal" font-size="21" dy="6">w</tspan></text>
</g>
</svg>
</body></html>
